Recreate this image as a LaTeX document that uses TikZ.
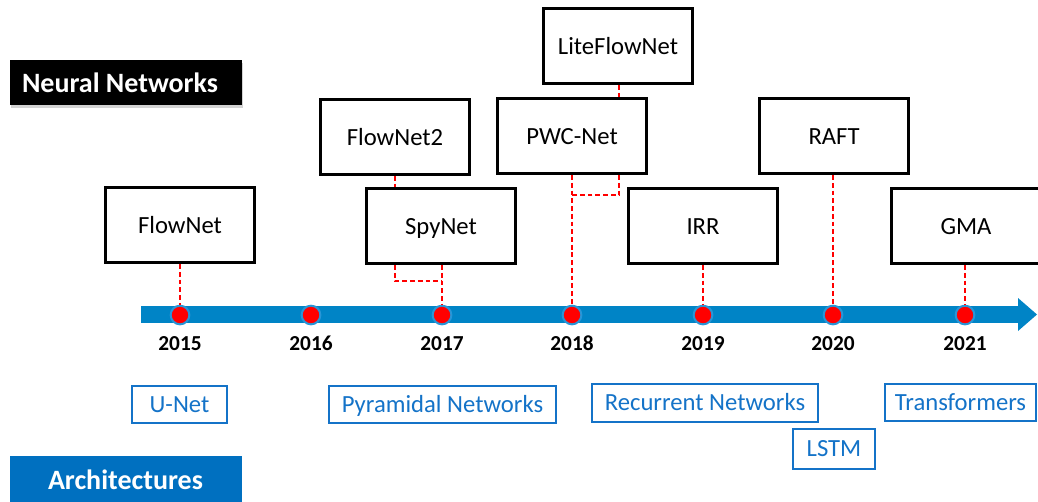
\documentclass[tikz,border=0pt]{standalone}
\usepackage{fontspec}
\setmainfont{Carlito}
\usetikzlibrary{shadows}
\definecolor{barblue}{RGB}{0,132,198}
\definecolor{ringblue}{RGB}{40,150,215}
\definecolor{archblue}{RGB}{0,112,192}
\definecolor{labblue}{RGB}{20,115,200}
\begin{document}
\begin{tikzpicture}[x=0.75pt,y=-0.75pt,
  model/.style={draw=black,line width=2.2pt,fill=white,minimum width=112pt,minimum height=56.5pt,
    font=\fontsize{18.5}{22}\selectfont,inner sep=0pt,text height=15pt,text depth=2pt},
  archlab/.style={draw=labblue,line width=1.6pt,fill=white,text=labblue,minimum height=28pt,
    font=\fontsize{18.5}{22}\selectfont,inner sep=0pt,text height=14pt,text depth=2.2pt},
  heading/.style={minimum width=174pt,minimum height=34pt,inner sep=0pt},
  headtext/.style={text=white,font=\fontsize{21}{25}\selectfont\bfseries},
  yeardot/.style={circle,fill=red,draw=ringblue,line width=1.5pt,minimum size=14pt,inner sep=0pt},
  yearlab/.style={font=\fontsize{16}{19}\selectfont\bfseries,anchor=base},
  link/.style={draw=red,line width=0.9pt,dash pattern=on 3.6pt off 2.2pt}]
\useasboundingbox (0,0) rectangle (1038,501);

% headings
\node[heading,fill=black,drop shadow={opacity=0.35,shadow xshift=0.8pt,shadow yshift=-2.2pt}] (nnbox) at (126,82.5) {};
\node[headtext] (nntext) at (120,83) {Neural Networks};
\node[heading,fill=archblue,minimum height=36pt] (archbox) at (126,480) {};
\node[headtext] (archtext) at (125.5,480) {Architectures};

% timeline bar with arrow head
\fill[barblue] (141,306) rectangle (1019,323);
\fill[barblue] (1018,298) -- (1037,314.5) -- (1018,331) -- cycle;

% year markers
\foreach \yr/\xx in {2015/180,2016/311,2017/442,2018/572,2019/703,2020/833,2021/965}{
  \node[yeardot] (d\yr) at (\xx,315) {};
  \node[yearlab] (y\yr) at (\xx,350) {\yr};
}

% network boxes
\node[model] (flownet)  at (180,225) {FlowNet};
\node[model] (flownet2) at (395,137) {FlowNet2};
\node[model] (spynet)   at (441,226) {SpyNet};
\node[model] (lite)     at (618,46)  {LiteFlowNet};
\node[model] (pwc)      at (572,136) {PWC-Net};
\node[model] (irr)      at (703,226) {IRR};
\node[model] (raft)     at (834,136) {RAFT};
\node[model] (gma)      at (966,226) {GMA};

% dashed links to the timeline
\coordinate (k17) at (442,281);
\coordinate (k18) at (619,195);
\draw[link] (flownet.south) -- (d2015);
\draw[link] (flownet2.south) -- (flownet2.south |- spynet.north);
\draw[link] (flownet2.south |- spynet.south) -- (flownet2.south |- k17) -- (k17);
\draw[link] (spynet.south -| d2017) -- (d2017);
\draw[link] (k18 |- lite.south) -- (k18 |- pwc.north);
\draw[link] (k18 |- pwc.south) -- (k18) -- (k18 -| d2018);
\draw[link] (pwc.south -| d2018) -- (d2018);
\draw[link] (irr.south) -- (d2019);
\draw[link] (raft.south -| d2020) -- (d2020);
\draw[link] (gma.south -| d2021) -- (d2021);

% architecture labels
\node[archlab,minimum width=71pt]   (unet)  at (179.5,404.5) {U-Net};
\node[archlab,minimum width=170pt]  (pyr)   at (442.5,404.5) {Pyramidal Networks};
\node[archlab,minimum width=169.5pt](rec)   at (705,403) {Recurrent Networks};
\node[archlab,minimum width=61.5pt,minimum height=30pt] (lstm) at (834,449) {LSTM};
\node[archlab,minimum width=113pt]  (trans) at (960.5,402.5) {Transformers};
\end{tikzpicture}
\end{document}
